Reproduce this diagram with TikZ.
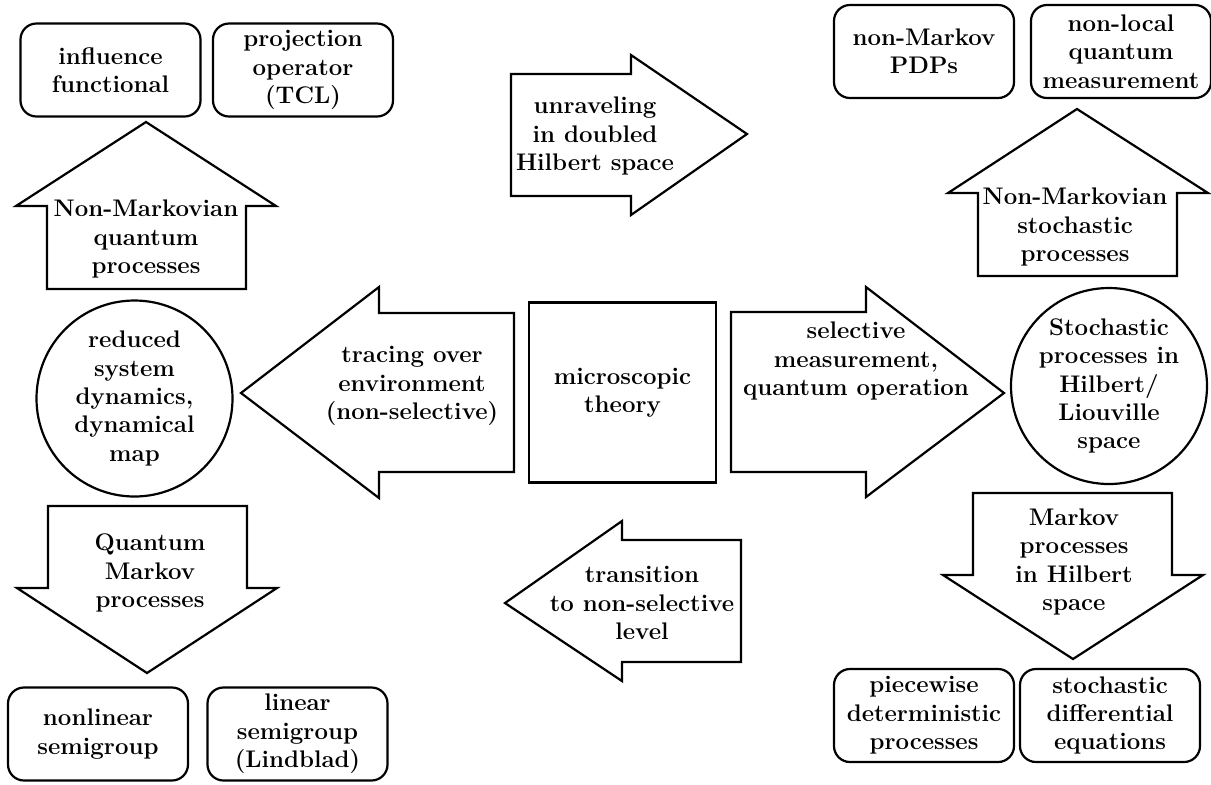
\documentclass[tikz,border=0pt]{standalone}
\usepackage{tikz}
\usetikzlibrary{positioning}

\begin{document}
\begin{tikzpicture}[x=0.5pt, y=-0.5pt, line width=1.1pt,
    txt/.style={align=center, font=\bfseries\fontsize{12}{14.2}\selectfont, inner sep=0pt},
    rbox/.style={txt, draw, rounded corners=8pt, minimum width=90pt, minimum height=46.5pt},
    ring/.style={txt, draw, circle, minimum size=98pt}]
    \useasboundingbox (0,0) rectangle (1211,784);

    % centre and the two big side arrows
    \node[txt, draw, minimum width=93.5pt, minimum height=90pt] (micro) at (622.5,392.5) {microscopic\\theory};
    \draw (241,393) -- (379,287) -- (379,313) -- (514,313) -- (514,472) -- (379,472) -- (379,498) -- cycle;
    \node[txt] (trace) at (412,386) {tracing over\\environment\\(non-selective)};
    \draw (731,312) -- (866,312) -- (866,287) -- (1004,393) -- (866,497) -- (866,472) -- (731,472) -- cycle;
    \node[txt] (select) at (856,361) {selective\\measurement,\\quantum operation};

    \draw (511,74) -- (631,74) -- (631,55) -- (747,134) -- (631,215) -- (631,196) -- (511,196) -- cycle;
    \node[txt] (unravel) at (595,136) {unraveling\\in doubled\\Hilbert space};
    \draw (505,603) -- (622,521) -- (622,540) -- (741,540) -- (741,662) -- (622,662) -- (622,681) -- cycle;
    \node[txt] (trans) at (642,603) {transition\\to non-selective\\level};

    % left column
    \node[ring] (reduced) at (134.5,398.5) {reduced\\system\\dynamics,\\dynamical\\map};
    \draw (146,122) -- (276,206) -- (246,206) -- (246,289) -- (47,289) -- (47,206) -- (16,206) -- cycle;
    \node[txt] (nmq) at (146,239) {Non-Markovian\\quantum\\processes};
    \draw (48,506) -- (247,506) -- (247,588) -- (277,588) -- (147,673) -- (17,588) -- (48,588) -- cycle;
    \node[txt] (qmp) at (150,573) {Quantum\\Markov\\processes};
    \node[rbox] (influ) at (110.5,70) {influence\\functional};
    \node[rbox] (proj) at (303,70) {projection\\operator\\(TCL)};
    \node[rbox] (nonlin) at (98,734) {nonlinear\\semigroup};
    \node[rbox] (lin) at (297.5,734) {linear\\semigroup\\(Lindblad)};

    % right column
    \node[ring] (stoch) at (1109,386) {Stochastic\\processes in\\Hilbert/\\Liouville\\space};
    \draw (1077,109) -- (1208,193) -- (1177,193) -- (1177,276) -- (978,276) -- (978,193) -- (948,193) -- cycle;
    \node[txt] (nms) at (1075,227) {Non-Markovian\\stochastic\\processes};
    \draw (973,493) -- (1172,493) -- (1172,575) -- (1203,575) -- (1073,659) -- (943,575) -- (973,575) -- cycle;
    \node[txt] (mph) at (1074,562) {Markov\\processes\\in Hilbert\\space};
    \node[rbox] (pdp) at (924,51.5) {non-Markov\\PDPs};
    \node[rbox] (nonloc) at (1121,51.5) {non-local\\quantum\\measurement};
    \node[rbox] (piece) at (924,715.5) {piecewise\\deterministic\\processes};
    \node[rbox] (sde) at (1110,715.5) {stochastic\\differential\\equations};
\end{tikzpicture}
\end{document}
